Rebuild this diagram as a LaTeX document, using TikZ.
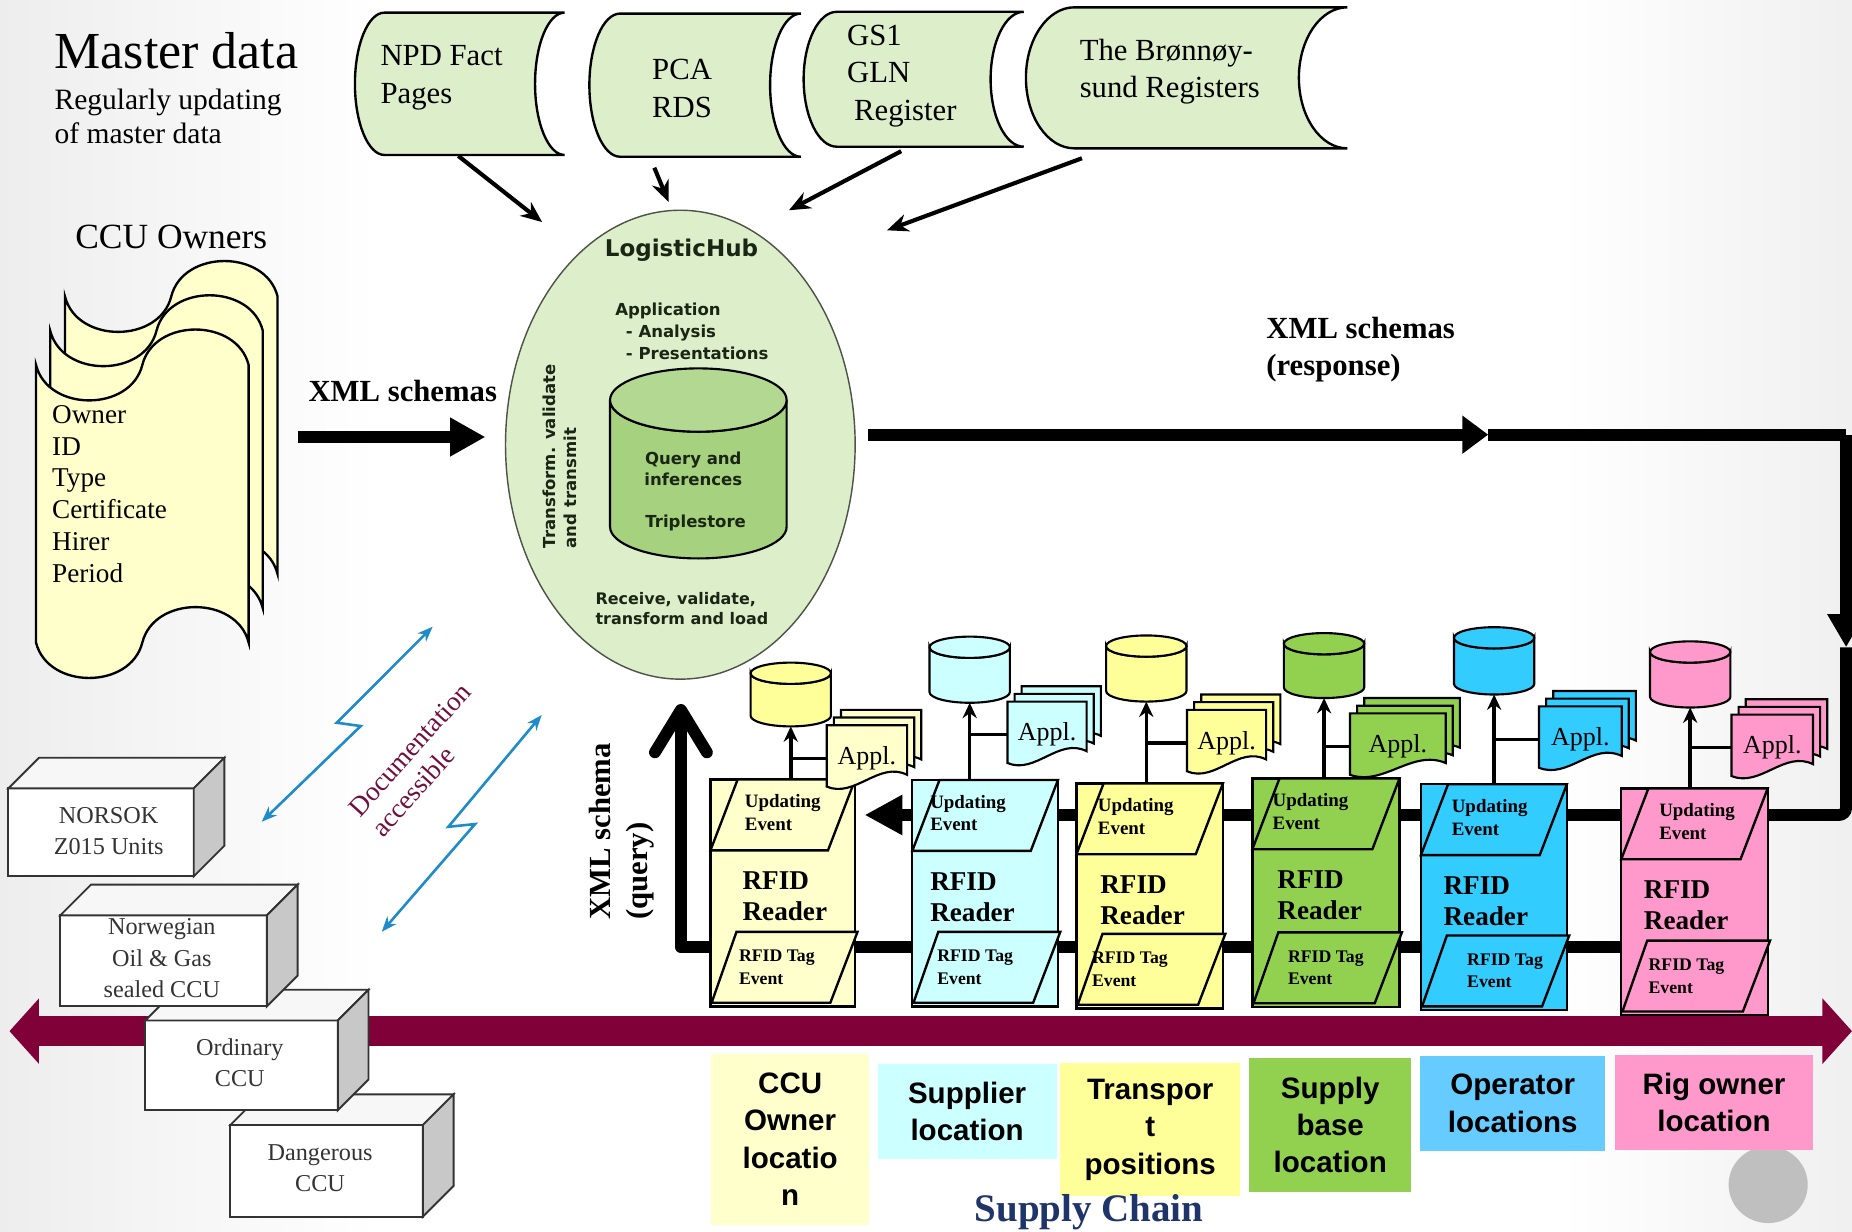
\documentclass[tikz,border=0pt]{standalone}
\usepackage{fontspec}
\setmainfont{Liberation Serif}
\newfontfamily\arialfont{Liberation Sans}
\newfontfamily\verdanafont{DejaVu Sans}
\usetikzlibrary{arrows.meta, shapes.geometric, positioning, calc}
\definecolor{hubgreen}{HTML}{DDEECB}
\definecolor{dbgreen}{HTML}{A6D17F}
\definecolor{hubink}{HTML}{1A2614}
\definecolor{paleyellow}{HTML}{FFFFCC}
\definecolor{yellowtwo}{HTML}{FFFF99}
\definecolor{palecyan}{HTML}{CCFFFF}
\definecolor{grassgreen}{HTML}{92D050}
\definecolor{skycyan}{HTML}{33CCFF}
\definecolor{opblue}{HTML}{66CCFF}
\definecolor{rosepink}{HTML}{FF99CC}
\definecolor{chainred}{RGB}{128,0,56}
\definecolor{docblue}{HTML}{1F8BC8}
\definecolor{docred}{RGB}{112,16,64}
\definecolor{chainnavy}{HTML}{1F3468}
\definecolor{boxgray}{HTML}{C8C8C8}
\tikzset{store/.style={draw=black, line width=2pt, fill=hubgreen},
sheet/.style={draw=black, line width=2pt, fill=paleyellow},
boxline/.style={draw=black!80, line width=1.6pt},
reader/.style={draw=black, line width=2pt},
docshape/.style={draw=black, line width=1.8pt},
dbshape/.style={draw=black, line width=1.8pt}}
\tikzset{feed/.style={draw=black, line width=3.5pt, -{Stealth[length=18pt,width=15pt]}},
flow/.style={draw=black, line width=10pt},
uparrow/.style={draw=black, line width=3pt, -{Stealth[length=13pt,width=12pt]}},
branch/.style={draw=black, line width=3pt},
docarrow/.style={draw=docblue, line width=2.2pt, {Stealth[length=13pt,width=10pt]}-{Stealth[length=13pt,width=10pt]}}}

% stored data shape: left x, top y, right x, bottom y, bulge
\newcommand{\storeshape}[5]{%
  \pgfmathsetmacro{\sry}{(#4-#2)/2}
  \draw[store] (#1+#5,#2) -- (#3,#2) arc[start angle=270, end angle=90, x radius=#5, y radius=\sry]
    -- (#1+#5,#4) arc[start angle=90, end angle=270, x radius=#5, y radius=\sry] -- cycle;
}
% punched tape sheet: left x, top y, bottom y
\newcommand{\tapesheet}[3]{%
  \draw[sheet] (#1,#2) .. controls (#1+10,#2+40) and (#1+80,#2+40) .. (#1+90,#2)
    .. controls (#1+100,#2-40) and (#1+170,#2-40) .. (#1+180,#2) -- (#1+180,#3)
    .. controls (#1+170,#3-40) and (#1+100,#3-40) .. (#1+90,#3)
    .. controls (#1+80,#3+40) and (#1+10,#3+40) .. (#1,#3) -- cycle;
}
% ccu box: x1, y1, x2, y2
\newcommand{\ccubox}[4]{%
  \draw[boxline, fill=white] (#1,#2) rectangle (#3,#4);
  \draw[boxline, fill=black!3] (#1,#2) -- (#1+26,#2-26) -- (#3+26,#2-26) -- (#3,#2) -- cycle;
  \draw[boxline, fill=boxgray] (#3,#2) -- (#3+26,#2-26) -- (#3+26,#4-26) -- (#3,#4) -- cycle;
}

\begin{document}
\begin{tikzpicture}[
        x=1pt, y=-1pt,
        hubshape/.style={ellipse, draw=black!65!hubgreen, line width=1.2pt, fill=hubgreen, minimum width=296pt, minimum height=397pt, inner sep=0pt},
        titletext/.style={font=\fontsize{44}{50}\selectfont, inner sep=0pt},
        plaintext/.style={font=\fontsize{25}{29}\selectfont, inner sep=0pt},
        storetext/.style={font=\fontsize{26}{32}\selectfont, align=left, anchor=west, inner sep=0pt},
        hubtitle/.style={font=\verdanafont\bfseries\fontsize{19.5}{22}\selectfont, text=hubink, inner sep=0pt},
        hubtext/.style={font=\verdanafont\bfseries\fontsize{14}{18.5}\selectfont, text=hubink, inner sep=0pt},
        bigbold/.style={font=\bfseries\fontsize{26}{32}\selectfont, inner sep=0pt},
        ccutext/.style={font=\fontsize{20.5}{26.5}\selectfont, text=black!80, align=center, inner sep=0pt},
        evtext/.style={font=\bfseries\fontsize{16}{19}\selectfont, align=left, anchor=west, inner sep=0pt},
        rdtext/.style={font=\bfseries\fontsize{23}{26}\selectfont, align=left, anchor=west, inner sep=0pt},
        tagtext/.style={font=\bfseries\fontsize{15}{19}\selectfont, align=left, anchor=west, inner sep=0pt},
        appltext/.style={font=\fontsize{22}{24}\selectfont, inner sep=0pt},
        chainlabel/.style={font=\arialfont\bfseries\fontsize{25}{31.5}\selectfont, align=center, inner sep=0pt}
    ]
        % Background
        \fill[white] (0,0) rectangle (1568,1043);
        \shade[left color=black!7, right color=white] (0,0) rectangle (320,1043);
        \shade[left color=white, right color=black!6] (1320,0) rectangle (1568,1043);
        \useasboundingbox (0,0) rectangle (1568,1043);
        % Supply chain band
        \coordinate (chainleft) at (8,873);
        \coordinate (chainright) at (1568,873);
        \draw[draw=chainred, line width=26pt, {Triangle[length=25pt,width=54pt]}-{Triangle[length=25pt,width=54pt]}] (chainleft) -- (chainright);
        % CCU boxes
        \ccubox{195}{952.5}{358}{1030}
        \ccubox{123}{864}{286}{940}
        \ccubox{51}{775}{226}{852}
        \ccubox{7}{667.5}{164}{742}
        \node[ccutext] (norsok) at (92,703.5) {NORSOK\\Z015 Units};
        \node[ccutext] (norwegian) at (137,811.3) {Norwegian\\Oil \& Gas\\sealed CCU};
        \node[ccutext] (ordinary) at (203,899.5) {Ordinary\\CCU};
        \node[ccutext] (dangerous) at (271,989.3) {Dangerous\\CCU};
        % Locations
        \fill[black!25] (1497,1003) ellipse[x radius=33.5, y radius=32.5];
        \node[chainlabel, fill=paleyellow, minimum width=134pt, minimum height=145pt] (cculoc) at (669,964.5) {CCU\\Owner\\locatio\\n};
        \node[chainlabel, fill=palecyan, minimum width=151.5pt, minimum height=80pt] (supploc) at (818.8,941) {Supplier\\location};
        \node[chainlabel, fill=yellowtwo, minimum width=152.5pt, minimum height=113pt] (transloc) at (973.8,956.5) {Transpor\\t\\positions};
        \node[chainlabel, fill=grassgreen, minimum width=137.5pt, minimum height=113pt] (baseloc) at (1126.2,952.5) {Supply\\base\\location};
        \node[chainlabel, fill=opblue, minimum width=157pt, minimum height=80pt] (oploc) at (1280.7,934.2) {Operator\\locations};
        \node[chainlabel, fill=rosepink, minimum width=168pt, minimum height=81pt] (rigloc) at (1451.2,933.4) {Rig owner\\location};
        \node[font=\bfseries\fontsize{33}{36}\selectfont, text=chainnavy, anchor=base, inner sep=0pt] (supplychain) at (922,1034) {Supply Chain};
        % Master data
        \node[titletext, anchor=base west] (master) at (46,58) {Master data};
        \node[plaintext, anchor=west, align=left] (masternote) at (46,98.5) {Regularly updating\\of master data};
        \storeshape{300.5}{10.7}{478}{131.2}{25}
        \storeshape{499}{11.5}{678}{132.7}{26}
        \storeshape{680.4}{10}{866.7}{124.2}{28}
        \storeshape{868.6}{6.2}{1140.7}{125.6}{41}
        \node[storetext] (npd) at (322,65.7) {NPD Fact\\Pages};
        \node[storetext] (pca) at (552,74.8) {PCA\\RDS};
        \node[storetext] (gln) at (717,64.4) {GS1\\GLN\\\hspace*{6pt}Register};
        \node[storetext] (brreg) at (914,60.7) {The Brønnøy-\\sund Registers};
        \coordinate (npdout) at (388,132);
        \coordinate (npdin) at (459,188);
        \coordinate (pcaout) at (554,142);
        \coordinate (pcain) at (566,171);
        \coordinate (glnout) at (763,128);
        \coordinate (glnin) at (668,178);
        \coordinate (brregout) at (916,134);
        \coordinate (brregin) at (751,195);
        \draw[feed] (npdout) -- (npdin);
        \draw[feed] (pcaout) -- (pcain);
        \draw[feed] (glnout) -- (glnin);
        \draw[feed] (brregout) -- (brregin);
        % LogisticHub
        \node[hubshape] (hub) at (576,376.5) {};
        \node[hubtitle] (hubname) at (577,211.7) {LogisticHub};
        \node[hubtext, anchor=west, align=left] (hubapp) at (520.7,280.3) {Application\\\hspace*{9pt}- Analysis\\\hspace*{9pt}- Presentations};
        \draw[dbshape, fill=dbgreen] (516.5,338.7) -- (516.5,446) arc[start angle=180, end angle=0, x radius=74.75, y radius=26.8]
            -- (666,338.7) arc[start angle=0, end angle=180, x radius=74.75, y radius=26.8] -- cycle;
        \draw[dbshape, fill=dbgreen!85!white] (591.25,338.7) ellipse[x radius=74.75, y radius=26.8];
        \node[hubtext, align=center] (hubquery) at (587,397) {Query and\\inferences};
        \node[hubtext] (hubstore) at (589,443.1) {Triplestore};
        \node[hubtext, font=\verdanafont\bfseries\fontsize{14}{17}\selectfont, rotate=90, anchor=west, align=left] (hubside) at (474,464.3) {Transform. validate\\and transmit};
        \node[hubtext, font=\verdanafont\bfseries\fontsize{13.5}{17}\selectfont, anchor=west, align=left] (hubload) at (504,515) {Receive, validate,\\transform and load};
        % CCU owners
        \node[font=\fontsize{30}{34}\selectfont, inner sep=0pt] (ccuowners) at (145,201) {CCU Owners};
        \tapesheet{55}{251}{486}
        \tapesheet{42.5}{280}{515}
        \tapesheet{30.5}{309}{544}
        \node[font=\fontsize{23}{27}\selectfont, anchor=west, align=left, inner sep=0pt] (ownerfields) at (44,418.3) {Owner\\ID\\Type\\Certificate\\Hirer\\Period};
        % XML schemas in
        \node[bigbold] (xmllabel) at (341,331) {XML schemas};
        \coordinate (xmlsrc) at (252,370);
        \coordinate (xmldst) at (411,370);
        \draw[flow, -{Triangle[length=30pt,width=31pt]}] (xmlsrc) -- (xmldst);
        % XML schemas out
        \node[bigbold, anchor=west, align=left] (resplabel) at (1072,296) {XML schemas\\(response)};
        \coordinate (respstart) at (735,368);
        \coordinate (respmid) at (1260,368);
        \coordinate (respcorner) at (1563,368);
        \coordinate (resptip) at (1563,548);
        \coordinate (respturn) at (1563,690);
        \coordinate (readerin) at (732,690);
        \draw[flow, -{Triangle[length=22pt,width=31pt]}] (respstart) -- (respmid);
        \draw[flow] (respmid) -- (respcorner);
        \draw[flow, -{Triangle[length=28pt,width=30pt]}] (respcorner) -- (resptip);
        \draw[flow, rounded corners=6pt, -{Triangle[length=32pt,width=32pt]}] (resptip) -- (respturn) -- (readerin);
        % XML schema query
        \coordinate (qstart) at (1380,802);
        \coordinate (qcorner) at (576.5,802);
        \coordinate (qtip) at (576.5,596);
        \draw[flow, line join=round, -{Straight Barb[length=36pt,width=44pt,round]}] (qstart) -- (qcorner) -- (qtip);
        \node[bigbold, rotate=90, anchor=west, align=left, font=\bfseries\fontsize{26}{31}\selectfont] (querylabel) at (526.5,779) {XML schema\\(query)};
        % Readers
        \foreach \r/\L/\T/\R/\B/\fc/\ux/\rx/\tx in {
            1/601.5/660/724/852/paleyellow/29/27/24,
            2/772.4/660.4/895.7/852/palecyan/15/15/21,
            3/911.4/663.2/1035.4/853.7/yellowtwo/18/20/13,
            4/1060.3/659/1184.9/852.4/grassgreen/17/21/30,
            5/1203/664/1326.6/855/skycyan/26/19/39,
            6/1372.6/667.5/1496.6/859.4/rosepink/32/19/23} {
            \pgfmathsetmacro{\rw}{\R-\L}
            \pgfmathsetmacro{\rh}{\B-\T}
            \node[reader, fill=\fc, minimum width=\rw pt, minimum height=\rh pt, inner sep=0pt, outer sep=0pt] (reader\r) at ({(\L+\R)/2},{(\T+\B)/2}) {};
            \draw[reader, fill=\fc] (\L+23,\T) -- (\R,\T) -- (\R-23,\T+60) -- (\L,\T+60) -- cycle;
            \draw[reader, fill=\fc] (\L+22,\B-63) -- (\R+2,\B-63) -- (\R-21,\B-3) -- (\L+1,\B-3) -- cycle;
            \node[evtext] (update\r) at (\L+\ux,\T+28) {Updating\\Event};
            \node[rdtext] (rfid\r) at (\L+\rx,\T+99) {RFID\\Reader};
            \node[tagtext] (tag\r) at (\L+\tx,\B-33) {RFID Tag\\Event};
        }
        % Databases
        \foreach \r/\cx/\ct/\cb/\fc in {
            1/669.5/570/606/yellowtwo,
            2/821/548/586/palecyan,
            3/970.5/547/585/yellowtwo,
            4/1121/545/582/grassgreen,
            5/1265/540/579/skycyan,
            6/1431/552/590/rosepink} {
            \draw[dbshape, fill=\fc] (\cx-34,\ct) -- (\cx-34,\cb) arc[start angle=180, end angle=0, x radius=34, y radius=9]
                -- (\cx+34,\ct) arc[start angle=0, end angle=180, x radius=34, y radius=9] -- cycle;
            \draw[dbshape, fill=\fc] (\cx,\ct) ellipse[x radius=34, y radius=9];
            \coordinate (db\r) at (\cx,\cb+9);
            \draw[uparrow] (reader\r.north -| db\r) -- (db\r);
        }
        % Applications
        \foreach \r/\xl/\yt/\w/\fc in {
            1/700/614/68/paleyellow,
            2/853/594/67/palecyan,
            3/1005/601/67/yellowtwo,
            4/1143/604/81/grassgreen,
            5/1303/598/70/skycyan,
            6/1466/605/69/rosepink} {
            \foreach \k in {2,1,0} {
                \pgfmathsetmacro{\dx}{\xl+6*\k}
                \pgfmathsetmacro{\dy}{\yt-6.5*\k}
                \draw[docshape, fill=\fc] (\dx,\dy) -- (\dx+\w,\dy) -- (\dx+\w,\dy+42)
                    .. controls (\dx+0.65*\w,\dy+30) and (\dx+0.35*\w,\dy+62) .. (\dx,\dy+52) -- cycle;
            }
            \node[appltext, minimum width=\w pt] (appl\r) at ({\xl+\w/2},\yt+28) {Appl.};
            \draw[branch] (appl\r.west) -- (appl\r.west -| db\r);
        }
        % Documentation
        \coordinate (docaa) at (221.6,695.7);
        \coordinate (docab) at (305.4,614.7);
        \coordinate (docac) at (285.1,611.9);
        \coordinate (docad) at (366.3,530.6);
        \coordinate (docba) at (323.2,788.9);
        \coordinate (docbb) at (402.2,697.7);
        \coordinate (docbc) at (379.6,700);
        \coordinate (docbd) at (458.6,605.4);
        \draw[docarrow] (docaa) -- (docab) -- (docac) -- (docad);
        \draw[docarrow] (docba) -- (docbb) -- (docbc) -- (docbd);
        \node[font=\fontsize{23}{26}\selectfont, text=docred, rotate=48, align=left, inner sep=0pt] (doclabel) at (356.5,643.6) {Documentation\\accessible};
    \end{tikzpicture}
\end{document}
